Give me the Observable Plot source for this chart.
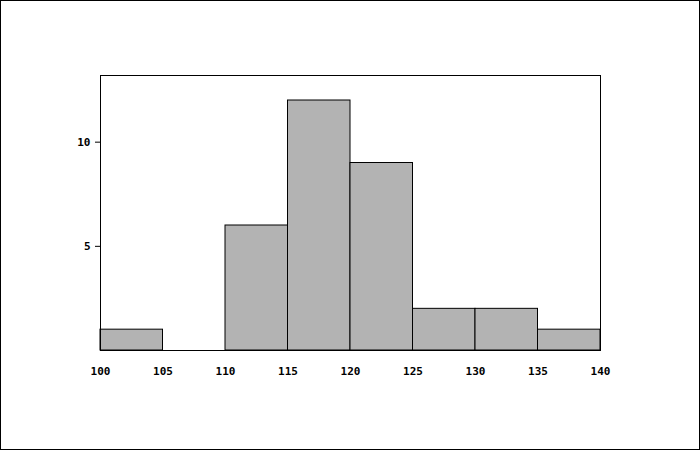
<!DOCTYPE html>
<html><head><meta charset="utf-8">
<script src="https://cdn.jsdelivr.net/npm/d3@7"></script>
<script src="https://cdn.jsdelivr.net/npm/@observablehq/plot@0.6"></script>
<style>
body{margin:0;background:#fff;}
#wrap{position:relative;width:700px;height:450px;}
#border{position:absolute;left:0;top:0;width:700px;height:450px;box-sizing:border-box;border:1px solid #000;pointer-events:none;}
</style>
</head><body>
<div id="wrap"><div id="border"></div></div>
<script>
const binStart = [100, 105, 110, 115, 120, 125, 130, 135];
const binEnd   = [105, 110, 115, 120, 125, 130, 135, 140];
const counts   = [1, 0, 6, 12, 9, 2, 2, 1];
const xTicks = [100, 105, 110, 115, 120, 125, 130, 135, 140];
const yTicks = [5, 10];

const data = binStart.map((s, i) => ({x1: s, x2: binEnd[i], y: counts[i]})).filter(d => d.y > 0);

const chart = Plot.plot({
  width: 700, height: 450,
  marginLeft: 100, marginRight: 100, marginTop: 75, marginBottom: 100,
  style: {fontFamily: "'DejaVu Sans Mono', monospace", fontSize: "11px", fontWeight: "bold", color: "#000", background: "transparent"},
  x: {domain: [100, 140], ticks: xTicks, label: null},
  y: {domain: [0, 13.2], ticks: yTicks, label: null},
  marks: [
    Plot.rect(data, {x1: "x1", x2: "x2", y1: 0, y2: "y", fill: "#b3b3b3", stroke: "#000", strokeWidth: 1}),
    Plot.frame({stroke: "#000"}),
    Plot.axisX({ticks: xTicks, tickSize: 0, tickPadding: 17, tickFormat: d => String(d), label: null}),
    Plot.axisY({ticks: yTicks, tickSize: 5, tickPadding: 5, tickFormat: d => String(d), label: null})
  ]
});
document.getElementById("wrap").prepend(chart);
</script>
</body></html>
